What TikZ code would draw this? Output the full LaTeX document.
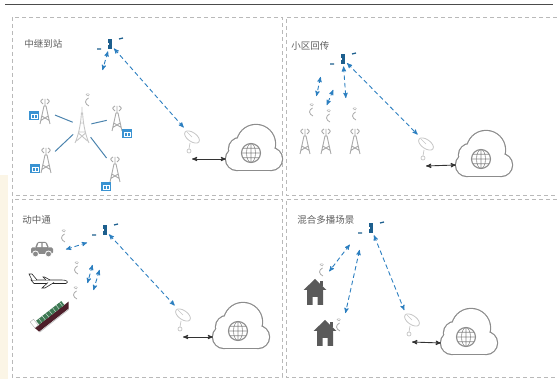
\documentclass[tikz,border=0pt]{standalone}
\usepackage{fontspec}
\newfontfamily\cjk{Noto Sans CJK SC}
\usetikzlibrary{arrows}

\definecolor{satblue}{HTML}{1D5F8E}
\definecolor{linkblue}{HTML}{2C7FC0}
\definecolor{cpeblue}{HTML}{3A93D2}
\definecolor{spokeblue}{HTML}{4C84AE}
\definecolor{mastgray}{HTML}{A8A8A8}
\definecolor{cloudgray}{HTML}{8C8C8C}
\definecolor{housegray}{HTML}{5A5A5A}
\definecolor{cargray}{HTML}{8A8A8A}
\definecolor{shipgreen}{HTML}{3F7A55}
\definecolor{hullred}{HTML}{4E1E2A}
\definecolor{titlegray}{HTML}{5E5E5E}
\definecolor{paper}{HTML}{FBF5E6}

\begin{document}
\begin{tikzpicture}[x=1pt,y=1pt,>=stealth',thick,
  title node/.style={anchor=west,inner sep=0pt,text=titlegray,font=\cjk\fontsize{9.5}{10}\selectfont},
  sat node/.style={rectangle,fill=satblue,minimum width=4.5pt,minimum height=10pt,inner sep=0pt},
  port node/.style={rectangle,inner sep=0pt},
  link/.style={<->,linkblue,line width=0.9pt,dash pattern=on 4.5pt off 3pt,shorten >=2pt,shorten <=2pt},
  wire/.style={<->,black!80,line width=0.9pt},
  spoke/.style={-,spokeblue,line width=1pt,shorten <=2pt,shorten >=5pt},
  panel frame/.style={gray!55,line width=0.9pt,dash pattern=on 4pt off 3pt},
  puff/.style={cloudgray,line width=2.4pt},
  satellite/.pic={
    \node[sat node] (-body) {};
    \fill[white] (-2.25,-1.3) rectangle (-0.7,1.3);
    \draw[satblue,line width=1.3pt] (-13,-5) -- (-9,-5) (9,5) -- (13,6);
  },
  dish/.pic={
    \draw[gray!45,line width=0.7pt] (-1,-3) -- (-2,-9);
    \draw[gray!45,line width=0.7pt,fill=white] (-2,-11) circle (2);
    \draw[gray!45,line width=0.8pt,fill=white,rotate around={-35:(1,3)}] (1,3) ellipse (8.5 and 4.5);
    \draw[gray!45,line width=0.6pt] (1,3) -- (-4,8);
    \coordinate (-feed) at (-6,11);
    \coordinate (-base) at (1,-19);
  },
  netcloud/.pic={
    % outline of the union: thick strokes, then white fills on top
    \draw[puff] (-17,-8) circle (11);
    \draw[puff] (17,-8) circle (11);
    \draw[puff] (2,7) circle (19);
    \draw[puff] (-14,2) circle (11);
    \draw[puff] (-17,-19) rectangle (17,-8);
    \fill[white] (-17,-8) circle (11);
    \fill[white] (17,-8) circle (11);
    \fill[white] (2,7) circle (19);
    \fill[white] (-14,2) circle (11);
    \fill[white] (-17,-19) rectangle (17,-8);
    \draw[cloudgray,line width=1.1pt] (-3,-2) circle (9.5);
    \draw[cloudgray,line width=0.6pt] (-3,-2) ellipse (4.5 and 9.5) (-3,-11.5) -- (-3,7.5)
      (-12.5,-2) -- (6.5,-2) (-11.2,2.75) -- (5.2,2.75) (-11.2,-6.75) -- (5.2,-6.75);
    \coordinate (-port) at (-28,-8);
  },
  mast/.pic={
    \draw[mastgray,line width=0.9pt] (-5,-13) -- (-1,5) -- (1,5) -- (5,-13)
      (-4.2,-9.5) -- (3.2,-5) (4.2,-9.5) -- (-3.2,-5) (0,5) -- (0,12)
      (-2,12) .. controls (-5,10) .. (-2,7) (2,12) .. controls (5,10) .. (2,7);
    \node[port node,minimum width=10pt,minimum height=26pt] (-port) {};
  },
  hubmast/.pic={
    \draw[gray!45,line width=0.9pt] (-7,-17) .. controls (-3,-8) and (-1,4) .. (-0.6,13) -- (0.6,13)
      .. controls (1,4) and (3,-8) .. (7,-17)
      (-3.8,-6) -- (3.8,-6) (-1.6,3) -- (1.6,3) (-5.5,-15) -- (3.6,-7) (5.5,-15) -- (-3.6,-7) (0,13) -- (0,19);
    \node[port node,minimum width=14pt,minimum height=34pt] (-port) {};
  },
  cpe/.pic={
    \fill[cpeblue] (-5,-4.5) rectangle (5,4.5);
    \draw[white,line width=0.4pt] (-3,-2.2) rectangle (3,1.8) (0,-2.2) -- (0,1.8);
  },
  aerial/.pic={
    \draw[mastgray,line width=0.8pt] (1.5,2) .. controls (-2.5,0) and (-2.5,-4) .. (2,-6);
    \draw[mastgray,line width=0.4pt] (-0.5,4) arc[start angle=160,end angle=20,radius=1.2]
      (-1.2,5) arc[start angle=160,end angle=20,radius=2];
  },
  house/.pic={
    \fill[housegray] (-11.5,2) -- (0,13) -- (11.5,2) -- (8,2) -- (8,-13) -- (2.5,-13) -- (2.5,-5)
      -- (-2.5,-5) -- (-2.5,-13) -- (-8,-13) -- (-8,2) -- cycle;
    \fill[housegray] (4.5,6) rectangle (8,11);
  },
  car/.pic={
    \fill[cargray,rounded corners=1.5pt] (-11,-4) rectangle (11,2.5);
    \fill[cargray,rounded corners=1.2pt] (-7,2) -- (-4.5,8) -- (4.5,8) -- (7,2) -- cycle;
    \fill[white] (-5,2.8) -- (-3.5,6.8) -- (-0.6,6.8) -- (-0.6,2.8) -- cycle
      (0.6,2.8) -- (0.6,6.8) -- (3.5,6.8) -- (5.2,2.8) -- cycle;
    \fill[cargray,draw=white,line width=0.8pt] (-6.5,-4) circle (3) (6.5,-4) circle (3);
  },
  plane/.pic={
    \draw[black!85,line width=0.6pt,fill=white] (-18,1) -- (13,1) .. controls (18,1) and (20,-1) .. (17,-2.5) -- (-15,-2.5) -- cycle;
    \draw[black!85,line width=0.6pt,fill=white] (-17,1) -- (-20,7) -- (-17,7) -- (-12,1);
    \draw[black!85,line width=0.6pt,fill=white] (-3,1) -- (-6,4) -- (-4.5,4) -- (1,1);
    \draw[black!85,line width=0.6pt,fill=white] (-1,-1.5) -- (-7,-7) -- (-4,-7) -- (5,-1.5);
  },
  ship/.pic={
    \begin{scope}[rotate=38,scale=1.1]
      \fill[hullred] (-19,1) -- (20,1) -- (16,-4) -- (-18,-4) -- cycle;
      \fill[shipgreen] (-14,1) rectangle (15,5.5);
      \foreach \k in {-11,-7,...,13} \draw[white,line width=0.3pt] (\k,1) -- (\k,5.5);
      \draw[gray!60,line width=0.4pt,fill=white] (-19,1) rectangle (-15,8);
      \draw[gray!50,line width=0.8pt] (-18,-4.6) -- (16,-4.6);
    \end{scope}
  }]

  \useasboundingbox (0,0) rectangle (557,-379);
  \fill[paper] (0,-175) rectangle (8,-379);
  \draw[black!70,line width=1pt] (5,-5) -- (553,-5);

  % the four dashed panels
  \draw[panel frame] (12,-17) rectangle (282,-195);
  \draw[panel frame] (557,-17) -- (286,-17) -- (286,-195) -- (557,-195);
  \draw[panel frame] (12,-199) rectangle (282,-377);
  \draw[panel frame] (557,-199) -- (286,-199) -- (286,-377) -- (557,-377);

  % relay to station
  \node[title node] (tA) at (24,-44) {中继到站};
  \pic (sA) at (110,-44) {satellite};
  \coordinate (uA) at (102,-72);
  \pic (hubA) at (82,-126) {hubmast};
  \pic at (87,-100) {aerial};
  \pic (mA1) at (45,-111) {mast};
  \pic (mA2) at (117,-118) {mast};
  \pic (mA3) at (46,-160) {mast};
  \pic (mA4) at (115,-169) {mast};
  \pic at (34,-116) {cpe};
  \pic at (127,-134) {cpe};
  \pic at (35,-169) {cpe};
  \pic at (106,-187) {cpe};
  \pic (dA) at (191,-140) {dish};
  \pic (cA) at (254,-151) {netcloud};

  \path[spoke] (hubA-port) edge (mA1-port) edge (mA2-port) edge (mA3-port) edge (mA4-port);
  \path[link] (sA-body) edge (uA) edge (dA-feed);
  \draw[wire] (dA-base) -- (cA-port);

  % cell backhaul
  \node[title node] (tB) at (291,-46) {小区回传};
  \pic (sB) at (343,-59) {satellite};
  \coordinate (uB1) at (321,-75);
  \coordinate (vB1) at (316,-98);
  \coordinate (uB2) at (334,-88);
  \coordinate (vB2) at (326,-107);
  \coordinate (vB3) at (346,-100);
  \pic at (311,-110) {aerial};
  \pic at (328,-116) {aerial};
  \pic at (354,-114) {aerial};
  \pic (mB1) at (305,-141) {mast};
  \pic (mB2) at (326,-141) {mast};
  \pic (mB3) at (355,-141) {mast};
  \pic (dB) at (425,-147) {dish};
  \pic (cB) at (484,-157) {netcloud};

  \path[link] (uB1) edge (vB1)
              (uB2) edge (vB2)
              (sB-body) edge (vB3) edge (dB-feed);
  \draw[wire] (dB-base) -- (cB-port);

  % communication on the move
  \node[title node] (tC) at (22,-220) {动中通};
  \pic (sC) at (105,-230) {satellite};
  \pic at (42,-250) {car};
  \pic at (49,-281) {plane};
  \pic at (52,-316) {ship};
  \pic at (63,-236) {aerial};
  \pic at (76,-268) {aerial};
  \pic at (75,-293) {aerial};
  \coordinate (uC1) at (64,-250);
  \coordinate (vC1) at (89,-242);
  \coordinate (uC2) at (93,-263);
  \coordinate (vC2) at (87,-285);
  \coordinate (uC3) at (100,-268);
  \coordinate (vC3) at (93,-292);
  \pic (dC) at (182,-318) {dish};
  \pic (cC) at (241,-329) {netcloud};

  \path[link] (uC1) edge (vC1)
              (uC2) edge (vC2)
              (uC3) edge (vC3)
              (sC-body) edge (dC-feed);
  \draw[wire] (dC-base) -- (cC-port);

  % mixed multicast
  \node[title node] (tD) at (297,-220) {混合多播场景};
  \pic (sD) at (371,-228) {satellite};
  \pic at (315,-292) {house};
  \pic at (325,-333) {house};
  \pic at (321,-270) {aerial};
  \pic at (338,-325) {aerial};
  \coordinate (uD1) at (351,-243);
  \coordinate (vD1) at (328,-273);
  \coordinate (uD2) at (360,-248);
  \coordinate (vD2) at (345,-315);
  \pic (dD) at (411,-323) {dish};
  \pic (cD) at (469,-335) {netcloud};

  \path[link] (uD1) edge (vD1)
              (uD2) edge (vD2)
              (sD-body) edge (dD-feed);
  \draw[wire] (dD-base) -- (cD-port);
\end{tikzpicture}
\end{document}
